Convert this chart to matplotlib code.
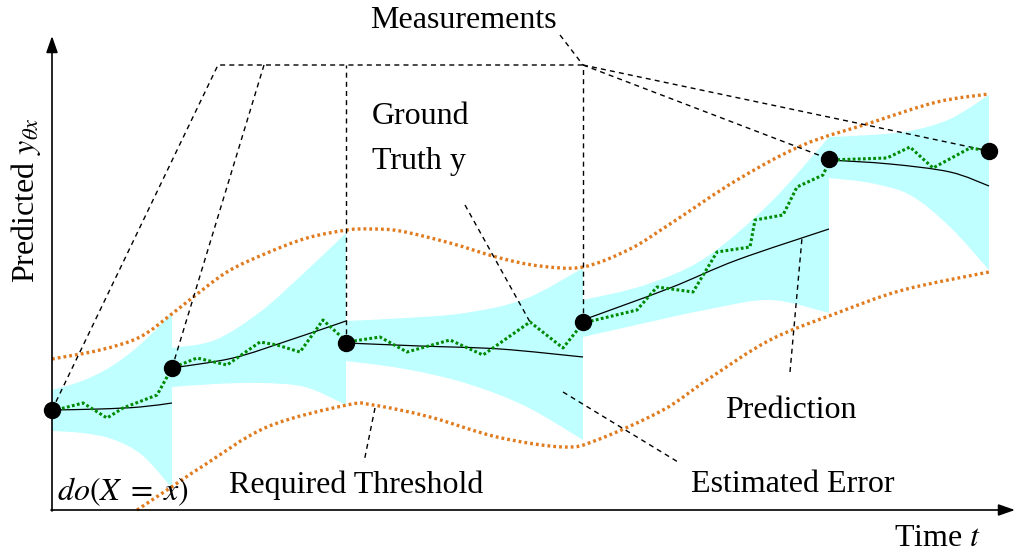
import numpy as np
import matplotlib
matplotlib.use("Agg")
import matplotlib.pyplot as plt
from matplotlib.path import Path
from matplotlib.patches import PathPatch

plt.rcParams["font.family"] = ["Liberation Serif", "DejaVu Serif"]
plt.rcParams["mathtext.fontset"] = "stix"
plt.rcParams["lines.scale_dashes"] = False

# ---- schematic values (time t, predicted y; screen-like units, y grows downward) ----
meas_t = [52, 172, 346, 583, 829, 989]
meas_y = [410, 368, 343, 322, 159, 151]

# prediction of each segment, restarted at every measurement
pred_t = [[52, 100, 140, 172], [172, 233, 290, 346], [346, 420, 500, 583],
          [583, 670, 737, 829], [829, 890, 950, 989]]
pred_y = [[410, 409, 407, 403], [368, 358, 340, 321], [343, 346, 349, 357],
          [320, 288, 260, 229], [160, 164, 172, 186]]

# estimated error band of each segment
band_t = [[52, 82, 112, 142, 172], [172, 215, 260, 305, 346], [346, 405, 465, 525, 583],
          [583, 645, 705, 770, 829], [829, 870, 910, 950, 989]]
band_hi = [[390, 381, 366, 343, 313], [348, 340, 312, 272, 233], [321, 318, 313, 299, 268],
           [300, 285, 258, 203, 137], [137, 135, 131, 119, 95]]
band_lo = [[431, 433, 439, 455, 488], [387, 384, 383, 387, 405], [361, 369, 383, 406, 440],
           [337, 323, 310, 300, 313], [178, 183, 195, 227, 270]]

# ground truth y
truth_t = [52, 83, 107, 123, 157, 167, 172, 197, 227, 260, 277, 300, 323, 347,
           380, 407, 450, 483, 530, 563, 583, 637, 657, 693, 717, 750, 755, 783,
           797, 823, 830, 887, 910, 933, 970, 990]
truth_y = [411, 403, 418, 408, 395, 377, 368, 358, 365, 342, 345, 352, 320, 342,
           337, 352, 340, 355, 322, 348, 323, 310, 287, 292, 252, 247, 220, 215,
           187, 175, 160, 158, 147, 168, 148, 151]

# required threshold (upper and lower)
thr_hi_t = [52, 100, 140, 173, 187, 227, 267, 307, 347, 370, 400, 450, 500, 540,
            583, 630, 670, 737, 803, 870, 937, 989]
thr_hi_y = [359, 350, 337, 313, 302, 272, 253, 238, 230, 229, 231, 243, 258, 266,
            267, 249, 224, 180, 145, 123, 102, 94]
thr_lo_t = [137, 170, 203, 267, 347, 373, 430, 497, 563, 597, 663, 707, 770, 837, 903, 989]
thr_lo_y = [510, 488, 466, 427, 405, 405, 417, 437, 447, 440, 410, 380, 340, 313, 290, 272]

# dashed leader lines from the labels
leaders = [
    [(52, 410), (218, 65), (583, 65)],
    [(172, 368), (264, 65)],
    [(346, 343), (346, 65)],
    [(583, 322), (583, 65)],
    [(583, 65), (829, 159)],
    [(583, 65), (989, 151)],
    [(560, 35), (583, 65)],
    [(465, 205), (530, 322)],
    [(790, 372), (802, 238)],
    [(563, 392), (678, 462)],
    [(375, 408), (364, 462)],
]

CYAN = "#BFFFFF"
ORANGE = "#E07B1F"
GREEN = "#008A00"


def smooth_vertices(xs, ys):
    """Catmull-Rom style cubic Bezier through the given points."""
    p = np.column_stack([xs, ys]).astype(float)
    ext = np.vstack([p[0], p, p[-1]])
    verts = [p[0]]
    codes = [Path.MOVETO]
    for i in range(len(p) - 1):
        p0, p1, p2, p3 = ext[i], ext[i + 1], ext[i + 2], ext[i + 3]
        c1 = p1 + (p2 - p0) / 6.0
        c2 = p2 - (p3 - p1) / 6.0
        verts += [c1, c2, p2]
        codes += [Path.CURVE4] * 3
    return verts, codes


fig = plt.figure(figsize=(10.16, 5.55), dpi=100)
ax = fig.add_axes([0, 0, 1, 1])
ax.set_xlim(0, 1016)
ax.set_ylim(555, 0)
ax.axis("off")

# error bands
for t, hi, lo in zip(band_t, band_hi, band_lo):
    v1, c1 = smooth_vertices(t, hi)
    v2, c2 = smooth_vertices(t[::-1], lo[::-1])
    c2 = [Path.LINETO] + c2[1:]
    verts = v1 + v2 + [v1[0]]
    codes = c1 + c2 + [Path.CLOSEPOLY]
    ax.add_patch(PathPatch(Path(verts, codes), facecolor=CYAN, edgecolor="none", zorder=1))

# threshold curves
for t, y in ((thr_hi_t, thr_hi_y), (thr_lo_t, thr_lo_y)):
    v, c = smooth_vertices(t, y)
    ax.add_patch(PathPatch(Path(v, c), facecolor="none", edgecolor=ORANGE, lw=2.4,
                           linestyle=(0, (2.0, 2.2)), zorder=2))

# leader lines
for pts in leaders:
    xs, ys = zip(*pts)
    ax.plot(xs, ys, color="black", lw=1.0, linestyle=(0, (3.6, 3.0)), zorder=3)

# predictions
for t, y in zip(pred_t, pred_y):
    v, c = smooth_vertices(t, y)
    ax.add_patch(PathPatch(Path(v, c), facecolor="none", edgecolor="black", lw=0.9, zorder=4))

# ground truth
ax.plot(truth_t, truth_y, color=GREEN, lw=2.2, linestyle=(0, (2.0, 1.7)),
        solid_joinstyle="round", zorder=5)

# measurements
ax.plot(meas_t, meas_y, "o", color="black", markersize=11.5, zorder=6)

# axes with arrows
ax.annotate("", xy=(52, 36), xytext=(52, 511),
            arrowprops=dict(arrowstyle="-|>,head_length=1.0,head_width=0.35",
                            color="black", lw=1.2, shrinkA=0, shrinkB=0), zorder=7)
ax.annotate("", xy=(1015, 510), xytext=(51, 510),
            arrowprops=dict(arrowstyle="-|>,head_length=1.0,head_width=0.35",
                            color="black", lw=1.2, shrinkA=0, shrinkB=0), zorder=7)

fs = 23
ax.text(463, 20, "Measurements", fontsize=fs, ha="center", va="center")
ax.text(372, 116, "Ground", fontsize=fs, ha="left", va="center")
ax.text(372, 161, "Truth y", fontsize=fs, ha="left", va="center")
ax.text(791, 410, "Prediction", fontsize=fs, ha="center", va="center")
ax.text(793, 485, "Estimated Error", fontsize=fs, ha="center", va="center")
ax.text(356, 485, "Required Threshold", fontsize=fs, ha="center", va="center")
ax.text(123, 492, r"$do(X\;=\;x)$", fontsize=fs, ha="center", va="center")
ax.text(937, 539, r"Time $t$", fontsize=fs, ha="center", va="center")
ax.text(26, 200, r"Predicted $y_{\theta x}$", fontsize=fs, ha="center", va="center",
        rotation=90)

fig.savefig("out.png", dpi=100)
